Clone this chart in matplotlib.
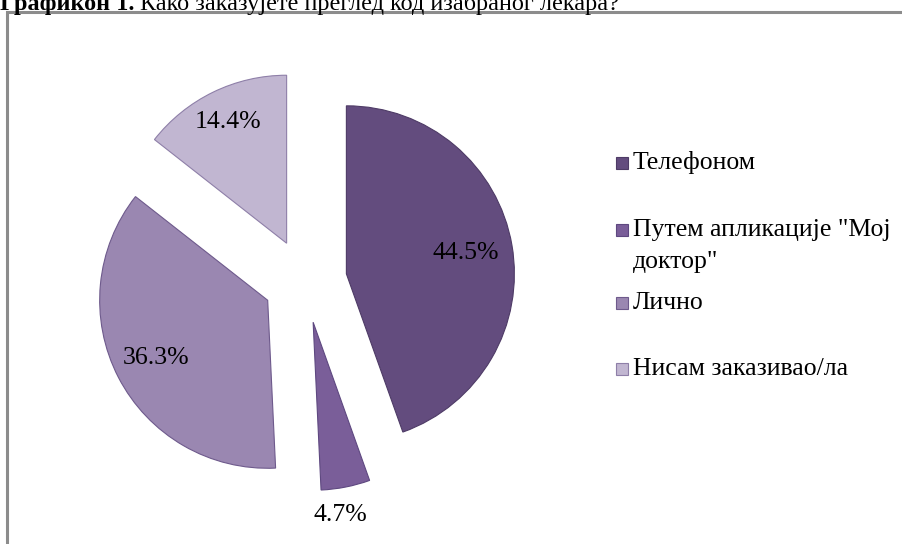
import numpy as np
import matplotlib
matplotlib.use("Agg")
import matplotlib.pyplot as plt
from matplotlib.patches import Rectangle

categories = ["Телефоном", "Путем апликације \"Мој\nдоктор\"", "Лично", "Нисам заказивао/ла"]
values = [44.5, 4.7, 36.3, 14.4]
colors = ["#634C7E", "#7A5E99", "#9A87B1", "#C1B6D1"]
edge_colors = ["#4E3B66", "#5E4880", "#6E5A8C", "#8E7FA8"]
label_dist = [0.72, 1.16, 0.75, 0.80]
label_rot = [0, -2.5, 0, 0]

plt.rcParams['font.family'] = ['Liberation Serif', 'DejaVu Serif']
FAM = ['Liberation Serif', 'DejaVu Serif']

W, H = 902, 544
fig = plt.figure(figsize=(W / 100, H / 100), dpi=100)

# pie geometry in pixels
cx, cy, r = 305, 281, 168
lim = 1.6
side = 2 * lim * r
ax = fig.add_axes([(cx - side / 2) / W, ((H - cy) - side / 2) / H, side / W, side / H])

explode = [0.25] * len(values)
wedges, _ = ax.pie(values, startangle=90, counterclock=False, explode=explode,
                   colors=colors, radius=1.0,
                   wedgeprops=dict(linewidth=0.8))
for w, ec in zip(wedges, edge_colors):
    w.set_edgecolor(ec)
ax.set_xlim(-lim, lim)
ax.set_ylim(-lim, lim)
ax.set_aspect('equal')
ax.axis('off')

for w, v, d, ex, rot in zip(wedges, values, label_dist, explode, label_rot):
    mid = np.deg2rad((w.theta1 + w.theta2) / 2 + rot)
    x = (d + ex) * np.cos(mid)
    y = (d + ex) * np.sin(mid)
    ax.text(x, y, f"{v:.1f}%", ha='center', va='center', fontsize=18.5,
            color='black', family=FAM)

# legend (manual)
leg_y = [163, 230, 303, 369]
for cat, col, ec, ly in zip(categories, colors, edge_colors, leg_y):
    fig.patches.append(Rectangle((616 / W, (H - ly - 6) / H), 12 / W, 12 / H,
                                 transform=fig.transFigure, facecolor=col,
                                 edgecolor=ec, linewidth=0.8))
    if '\n' in cat:
        fig.text(633 / W, (H - ly - 16) / H, cat, ha='left', va='center', fontsize=18.5,
                 linespacing=1.54, family=FAM)
    else:
        fig.text(633 / W, (H - ly) / H, cat, ha='left', va='center', fontsize=18.5,
                 family=FAM)

# frame
fig.patches.append(Rectangle((7 / W, -0.05), 1.0, (H - 12) / H + 0.05,
                             transform=fig.transFigure, facecolor='none',
                             edgecolor='#8C8C8C', linewidth=2.2))

# title (cut at top)
t1 = fig.text(0 / W, (H - 10) / H, "Графикон 1.", ha='left', va='baseline',
              fontsize=17.5, fontweight='bold', family=FAM)
renderer = fig.canvas.get_renderer()
bb = t1.get_window_extent(renderer=renderer)
fig.text((bb.x1 + 5) / W, (H - 10) / H, "Како заказујете преглед код изабраног лекара?",
         ha='left', va='baseline', fontsize=17.5, family=FAM)

fig.savefig("out.png", dpi=100)
